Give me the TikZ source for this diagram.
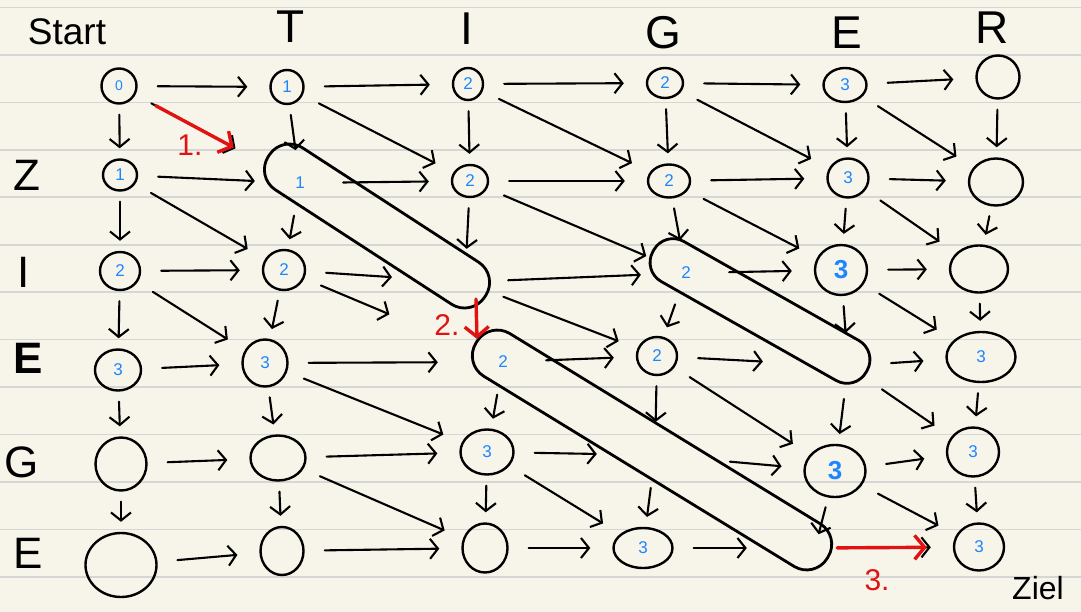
\documentclass[tikz,border=0pt]{standalone}
\usepackage{fontspec}
\setmainfont{Liberation Sans}
\usetikzlibrary{arrows.meta,shapes.geometric}
\definecolor{paper}{RGB}{247,245,234}
\definecolor{ruling}{RGB}{214,214,212}
\definecolor{numblue}{RGB}{28,134,255}
\definecolor{penred}{RGB}{224,18,18}
\newcommand{\fs}[1]{\fontsize{#1}{#1}\selectfont}

\begin{document}
\begin{tikzpicture}[x=1pt,y=-1pt,
  line cap=round, line join=round,
  cell/.style={draw, ellipse, line width=2.4pt, inner sep=0pt, text=numblue, font=\fs{17}},
  big/.style={font=\fs{26}\bfseries},
  inner/.style={circle, inner sep=0pt, minimum size=46pt, text=numblue, font=\fs{17}},
  band/.style={draw, rectangle, line width=2.8pt, inner sep=0pt, rounded corners=24pt, minimum height=50pt},
  arr/.style={line width=2.1pt, -{Straight Barb[length=8pt,width=20pt]}},
  rt/.style={arr, shorten <=20pt, shorten >=22pt},
  dn/.style={arr, shorten <=10pt, shorten >=10pt},
  dg/.style={arr, shorten <=18pt, shorten >=20pt},
  redarr/.style={line width=3.4pt, draw=penred, -{Straight Barb[length=10pt,width=24pt]}},
  hdr/.style={font=\fs{46}},
  rowlbl/.style={font=\fs{44}},
  note/.style={text=penred, font=\fs{30}},
]
% paper and ruling
\fill[paper] (0,0) rectangle (1081,612);
\useasboundingbox (0,0) rectangle (1081,612);
\foreach \k in {0,...,12}
  \draw[ruling, line width=1.6pt] (0,{7.5+47.45*\k}) -- (1081,{7.5+47.45*\k});

% headers
\node[font=\fs{37}] (start) at (67,32) {Start};
\node[hdr] (hT) at (291,27) {T};
\node[hdr] (hI) at (467,29) {I};
\node[hdr] (hG) at (663,33) {G};
\node[hdr] (hE) at (847,33) {E};
\node[hdr] (hR) at (992,28) {R};
\node[rowlbl] (vZ) at (27,175) {Z};
\node[rowlbl] (vI) at (24,272) {I};
\node[rowlbl, font=\fs{44}\bfseries] (vE) at (28,358) {E};
\node[rowlbl] (vG) at (22,462) {G};
\node[rowlbl] (vE2) at (28,553) {E};
\node[font=\fs{32}] (goal) at (1038,588) {Ziel};

% diagonal runs
\node[band, minimum width=258pt, rotate=-33] (band1) at (377,226) {};
\node[band, minimum width=245pt, minimum height=46pt, rounded corners=22pt, rotate=-29.5] (band2) at (760,311) {};
\node[band, minimum width=412pt, rotate=-31.5] (band3) at (652,450) {};

% row 0
\node[cell, minimum width=35pt, minimum height=35pt, font=\fs{14}] (S0) at (119,86) {0};
\node[cell, minimum width=33pt, minimum height=34pt] (T0) at (287,87) {1};
\node[cell, minimum width=30pt, minimum height=32pt] (I0) at (468,84) {2};
\node[cell, minimum width=36pt, minimum height=30pt] (G0) at (665,83) {2};
\node[cell, minimum width=43pt, minimum height=34pt] (E0) at (845,85) {3};
\node[cell, minimum width=43pt, minimum height=43pt] (R0) at (998,77) {};
% row 1
\node[cell, minimum width=34pt, minimum height=31pt] (S1) at (120,175) {1};
\node[inner] (T1) at (300,183) {1};
\node[cell, minimum width=36pt, minimum height=32pt] (I1) at (470,181) {2};
\node[cell, minimum width=42pt, minimum height=33pt] (G1) at (669,181) {2};
\node[cell, minimum width=41pt, minimum height=39pt] (E1) at (848,178) {3};
\node[cell, minimum width=54pt, minimum height=47pt] (R1) at (996,182) {};
% row 2
\node[cell, minimum width=40pt, minimum height=38pt] (S2) at (120,271) {2};
\node[cell, minimum width=42pt, minimum height=40pt] (T2) at (284,270) {2};
\node[inner] (I2) at (465,282) {};
\node[inner] (G2) at (686,273) {2};
\node[cell, big, minimum width=52pt, minimum height=50pt] (E2) at (841,270) {3};
\node[cell, minimum width=58pt, minimum height=47pt] (R2) at (979,269) {};
% row 3
\node[cell, minimum width=46pt, minimum height=41pt] (S3) at (118,370) {3};
\node[cell, minimum width=45pt, minimum height=47pt] (T3) at (265,363) {3};
\node[inner] (I3) at (503,362) {2};
\node[cell, minimum width=40pt, minimum height=38pt] (G3) at (657,356) {2};
\node[inner] (E3) at (848,366) {};
\node[cell, minimum width=69pt, minimum height=50pt] (R3) at (981,357) {3};
% row 4
\node[cell, minimum width=51pt, minimum height=53pt] (S4) at (121,464) {};
\node[cell, minimum width=55pt, minimum height=45pt] (T4) at (278,458) {};
\node[cell, minimum width=53pt, minimum height=45pt] (I4) at (487,452) {3};
\node[inner] (G4) at (655,455) {};
\node[cell, big, minimum width=61pt, minimum height=52pt] (E4) at (835,471) {3};
\node[cell, minimum width=52pt, minimum height=49pt] (R4) at (973,452) {3};
% row 5
\node[cell, minimum width=71pt, minimum height=64pt] (S5) at (121,565) {};
\node[cell, minimum width=43pt, minimum height=48pt] (T5) at (282,551) {};
\node[cell, minimum width=45pt, minimum height=49pt] (I5) at (485,548) {};
\node[cell, minimum width=59pt, minimum height=40pt] (G5) at (643,548) {3};
\node[inner, minimum size=20pt] (E5) at (815,548) {};
\node[cell, minimum width=50pt, minimum height=47pt] (R5) at (979,547) {3};

% horizontal steps
\foreach \a/\b in {S0/T0,T0/I0,I0/G0,G0/E0,E0/R0,
                   S1/T1,T1/I1,I1/G1,G1/E1,E1/R1,
                   S2/T2,I2/G2,G2/E2,E2/R2,
                   S3/T3,I3/G3,E3/R3,
                   S4/T4,T4/I4,E4/R4,
                   S5/T5,T5/I5,I5/G5,E5/R5}
  \draw[rt] (\a) -- (\b);
\draw[rt, shorten >=50pt] (T2) -- (I2);
\draw[rt, shorten >=42pt] (T3) -- (I3);
\draw[rt, shorten >=62pt] (G3) -- (E3);
\draw[rt, shorten >=35pt] (I4) -- (G4);
\draw[rt, shorten <=52pt] (G4) -- (E4);
\draw[rt, shorten >=58pt] (G5) -- (E5);

% vertical steps
\foreach \a/\b in {S0/S1,S1/S2,S2/S3,S3/S4,S4/S5,
                   T0/T1,T1/T2,T2/T3,T3/T4,T4/T5,
                   I0/I1,I1/I2,I3/I4,I4/I5,
                   G0/G1,G1/G2,G2/G3,G3/G4,G4/G5,
                   E0/E1,E1/E2,E2/E3,E3/E4,
                   R0/R1,R1/R2,R2/R3,R3/R4,R4/R5}
  \draw[dn] (\a) -- (\b);
\draw[dn, shorten >=4pt] (E4) -- (E5);

% diagonal steps
\foreach \a/\b in {T0/I1,I0/G1,G0/E1,E0/R1,
                   S1/T2,I1/G2,G1/E2,E1/R2,
                   S2/T3,I2/G3,E2/R3,
                   T3/I4,G3/E4,E3/R4,
                   T4/I5,I4/G5,E4/R5}
  \draw[dg] (\a) -- (\b);
\draw[dg, shorten >=50pt] (S0) -- (T1);
\draw[dg, shorten >=100pt] (T2) -- (I3);

% marked path
\coordinate (r2a) at (476,299);
\coordinate (r2b) at (477,339);
\draw[redarr, shorten <=23pt, shorten >=52pt] (S0) -- (T1);
\draw[redarr] (r2a) -- (r2b);
\draw[redarr, shorten <=12pt, shorten >=26pt] (E5) -- (R5);
\node[note] (n1) at (190,145) {1.};
\node[note] (n2) at (447,325) {2.};
\node[note] (n3) at (877,580) {3.};
\end{tikzpicture}
\end{document}
